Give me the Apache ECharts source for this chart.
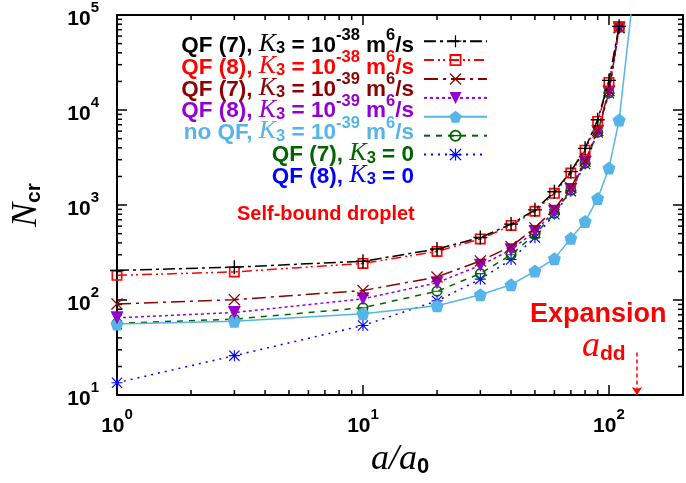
<!DOCTYPE html>
<html>
<head>
<meta charset="utf-8">
<script src="https://cdn.jsdelivr.net/npm/echarts@6/dist/echarts.min.js"></script>
<style>
  html, body { margin: 0; padding: 0; background: #fff; }
  #chart { width: 686px; height: 483px; }
</style>
</head>
<body>
<div id="chart"></div>
<script>
// a/a0 grid of the calculations
const aQF = [1, 3, 10, 20, 30, 40, 50, 60, 70, 80, 90, 100, 110];
const aNoQF = [1, 3, 10, 20, 30, 40, 50, 60, 70, 80, 90, 100, 110, 125];

// critical number N_cr for each model
const nQF7K38 = [205, 222, 256, 345, 455, 630, 890, 1380, 2250, 3950, 7900, 20500, 76000];
const nQF8K38 = [182, 198, 243, 325, 440, 610, 860, 1330, 2170, 3780, 7580, 19500, 75000];
const nQF7K39 = [91, 101, 126, 175, 258, 366, 575, 910, 1520, 2900, 6100, 16000, 74000];
const nQF8K39 = [65, 74, 103, 152, 232, 338, 528, 860, 1460, 2800, 5950, 15500, 73000];
const nNoQFK39 = [56, 60, 72, 87, 114, 145, 202, 273, 446, 673, 1175, 2450, 7840, 150000];
const nQF7K0 = [57, 63, 83, 124, 190, 300, 490, 820, 1430, 2760, 5850, 15200, 74000];
const nQF8K0 = [13.5, 26, 54, 98, 166, 267, 454, 800, 1400, 2700, 5800, 15000, 73000];

const xMinorTicks = [2, 3, 4, 5, 6, 7, 8, 9, 20, 30, 40, 50, 60, 70, 80, 90];
const yMinorTicks = [20, 30, 40, 50, 60, 70, 80, 90, 200, 300, 400, 500, 600, 700, 800, 900,
  2000, 3000, 4000, 5000, 6000, 7000, 8000, 9000, 20000, 30000, 40000, 50000, 60000, 70000, 80000, 90000];

const aDD = 130;

const seriesNames = ['QF7 K38', 'QF8 K38', 'QF7 K39', 'QF8 K39', 'noQF K39', 'QF7 K0', 'QF8 K0'];
const legendLabels = [
  '{n|QF (7), }{k|K}{sub|3}{n| = 10}{sup|-38}{n| m}{sup|6}{n|/s}',
  '{n|QF (8), }{k|K}{sub|3}{n| = 10}{sup|-38}{n| m}{sup|6}{n|/s}',
  '{n|QF (7), }{k|K}{sub|3}{n| = 10}{sup|-39}{n| m}{sup|6}{n|/s}',
  '{n|QF (8), }{k|K}{sub|3}{n| = 10}{sup|-39}{n| m}{sup|6}{n|/s}',
  '{n|no QF, }{k|K}{sub|3}{n| = 10}{sup|-39}{n| m}{sup|6}{n|/s}',
  '{n|QF (7), }{k|K}{sub|3}{n| = 0}',
  '{n|QF (8), }{k|K}{sub|3}{n| = 0}'
];
const colors = ['#000000', '#ff0000', '#8b0000', '#9400d3', '#56b4e9', '#006400', '#0000ff'];

// marker shapes
const symPlus = 'path://M9,0H11V9H20V11H11V20H9V11H0V9H9Z';
const symCross = 'path://M0,1.5L1.5,0L10,8.5L18.5,0L20,1.5L11.5,10L20,18.5L18.5,20L10,11.5L1.5,20L0,18.5L8.5,10Z';
const symBoxDot = 'path://M0,0H20V20H0Z M3,3V17H17V3Z M8,8H12V12H8Z';
const symTriDown = 'path://M0,0H20L10,17Z';
const symPentagon = 'path://M10,0L19.5,6.9L15.9,18.1L4.1,18.1L0.5,6.9Z';
const symCircleBar = 'path://M0,10A10,10 0 1,1 20,10A10,10 0 1,1 0,10Z M3,10A7,7 0 1,0 17,10A7,7 0 1,0 3,10Z M3,9H17V11H3Z';
const symStar = 'path://M9,0H11V9H20V11H11V20H9V11H0V9H9Z M0,1.5L1.5,0L10,8.5L18.5,0L20,1.5L11.5,10L20,18.5L18.5,20L10,11.5L1.5,20L0,18.5L8.5,10Z';

const SANS = 'Liberation Sans';
const SERIF = 'Liberation Serif';

let myChart = echarts.init(document.getElementById('chart'));

function pairs(xs, ys) {
  return xs.map((x, i) => [x, ys[i]]);
}

function lineSeries(idx, xs, ys, symbol, size, dash) {
  return {
    name: seriesNames[idx],
    type: 'line',
    data: pairs(xs, ys),
    symbol: symbol,
    symbolSize: size,
    showAllSymbol: true,
    itemStyle: { color: colors[idx] },
    lineStyle: { color: colors[idx], width: 1.5, type: dash },
    emphasis: { disabled: true },
    z: 10 - idx
  };
}

const tickStyle = { stroke: '#000', lineWidth: 1.5 };

const labelRich = {
  b: { fontFamily: SANS, fontWeight: 'bold', fontSize: 21, lineHeight: 30, verticalAlign: 'bottom', color: '#000' },
  s: { fontFamily: SANS, fontWeight: 'bold', fontSize: 15, lineHeight: 13, verticalAlign: 'top', color: '#000' }
};
function powLabel(v) {
  return '{b|10}{s|' + Math.round(Math.log10(v)) + '}';
}

const legRich = {
  n: { fontFamily: SANS, fontWeight: 'bold', fontSize: 22.5, lineHeight: 30, verticalAlign: 'bottom' },
  k: { fontFamily: SERIF, fontStyle: 'italic', fontSize: 26, lineHeight: 30, verticalAlign: 'bottom' },
  sub: { fontFamily: SANS, fontWeight: 'bold', fontSize: 16.5, lineHeight: 12, verticalAlign: 'bottom' },
  sup: { fontFamily: SANS, fontWeight: 'bold', fontSize: 16.5, lineHeight: 11, verticalAlign: 'top' }
};

const graphics = legendLabels.map((txt, i) => ({
  type: 'text',
  x: 414,
  y: 42 + i * 21.9,
  z: 100,
  style: {
    text: txt,
    rich: legRich,
    fill: colors[i],
    align: 'right',
    verticalAlign: 'middle'
  }
}));
graphics.push({
  type: 'text', x: 237, y: 214, z: 100,
  style: { text: 'Self-bound droplet', fill: '#ff0000', fontFamily: SANS, fontWeight: 'bold', fontSize: 20, verticalAlign: 'middle' }
});
graphics.push({
  type: 'text', x: 530, y: 315, z: 100,
  style: { text: 'Expansion', fill: '#ff0000', fontFamily: SANS, fontWeight: 'bold', fontSize: 27, verticalAlign: 'middle' }
});
graphics.push({
  type: 'text', x: 582, y: 350, z: 100,
  style: {
    text: '{a|a}{d|dd}',
    fill: '#ff0000',
    verticalAlign: 'middle',
    rich: {
      a: { fontFamily: SERIF, fontStyle: 'italic', fontSize: 36, lineHeight: 30, verticalAlign: 'bottom' },
      d: { fontFamily: SANS, fontWeight: 'bold', fontSize: 21, lineHeight: 14, verticalAlign: 'bottom' }
    }
  }
});

var option = {
  animation: false,
  grid: { left: 117, right: 3, top: 12, bottom: 83, containLabel: false },
  legend: {
    left: 423,
    top: 35.2,
    padding: 0,
    orient: 'vertical',
    itemWidth: 63,
    itemHeight: 15,
    itemGap: 6.9,
    selectedMode: false,
    formatter: function () { return ''; },
    textStyle: { fontSize: 10, lineHeight: 15 },
    data: seriesNames
  },
  xAxis: [
    {
      type: 'log', logBase: 10, min: 1, max: 200,
      name: '{a|a/a}{s|0}',
      nameLocation: 'middle',
      nameGap: 38,
      nameTextStyle: {
        rich: {
          a: { fontFamily: SERIF, fontStyle: 'italic', fontSize: 36, lineHeight: 36, verticalAlign: 'bottom', color: '#000' },
          s: { fontFamily: SANS, fontWeight: 'bold', fontSize: 22, lineHeight: 16, verticalAlign: 'bottom', color: '#000' }
        }
      },
      axisLine: { lineStyle: { color: '#000', width: 2 } },
      axisTick: { inside: true, length: 10, lineStyle: { color: '#000', width: 1.5 } },
      axisLabel: { margin: 12, showMaxLabel: false, formatter: powLabel, rich: labelRich },
      splitLine: { show: false }
    },
    {
      type: 'log', logBase: 10, min: 1, max: 200, position: 'top',
      axisLine: { lineStyle: { color: '#000', width: 2 } },
      axisTick: { inside: true, length: 10, lineStyle: { color: '#000', width: 1.5 } },
      axisLabel: { show: false },
      splitLine: { show: false }
    }
  ],
  yAxis: [
    {
      type: 'log', logBase: 10, min: 10, max: 100000, interval: 1,
      name: '{n|N}{s|cr}',
      nameLocation: 'middle',
      nameRotate: 90,
      nameGap: 72,
      nameTextStyle: {
        rich: {
          n: { fontFamily: SERIF, fontStyle: 'italic', fontSize: 36, lineHeight: 36, verticalAlign: 'bottom', color: '#000' },
          s: { fontFamily: SANS, fontWeight: 'bold', fontSize: 21, lineHeight: 16, verticalAlign: 'bottom', color: '#000' }
        }
      },
      axisLine: { lineStyle: { color: '#000', width: 2 } },
      axisTick: { inside: true, length: 10, lineStyle: { color: '#000', width: 1.5 } },
      axisLabel: { margin: 18, formatter: powLabel, rich: labelRich },
      splitLine: { show: false }
    },
    {
      type: 'log', logBase: 10, min: 10, max: 100000, interval: 1, position: 'right',
      axisLine: { lineStyle: { color: '#000', width: 2 } },
      axisTick: { inside: true, length: 10, lineStyle: { color: '#000', width: 1.5 } },
      axisLabel: { show: false },
      splitLine: { show: false }
    }
  ],
  graphic: graphics,
  series: [
    lineSeries(0, aQF, nQF7K38, symPlus, 14, [12, 4, 3, 4]),
    Object.assign(lineSeries(1, aQF, nQF8K38, symBoxDot, 11, [10, 4, 2, 3, 2, 4]), {
      markLine: {
        silent: true,
        symbol: ['none', 'arrow'],
        symbolSize: 8,
        label: { show: false },
        lineStyle: { color: '#ff0000', width: 1.5, type: [4, 3] },
        emphasis: { disabled: true },
        data: [[{ coord: [aDD, 28] }, { coord: [aDD, 10] }]]
      }
    }),
    lineSeries(2, aQF, nQF7K39, symCross, 12, [14, 5, 3, 5]),
    lineSeries(3, aQF, nQF8K39, symTriDown, 13, [3, 3]),
    lineSeries(4, aNoQF, nNoQFK39, symPentagon, 13, 'solid'),
    lineSeries(5, aQF, nQF7K0, symCircleBar, 11, [6, 6]),
    lineSeries(6, aQF, nQF8K0, symStar, 11, [2, 5]),
    {
      type: 'custom',
      silent: true,
      data: xMinorTicks.map(v => [v, 10]),
      renderItem: function (params, api) {
        const x = api.coord([api.value(0), 10])[0];
        const cs = params.coordSys;
        return {
          type: 'group',
          children: [
            { type: 'line', shape: { x1: x, y1: cs.y + cs.height, x2: x, y2: cs.y + cs.height - 5 }, style: tickStyle },
            { type: 'line', shape: { x1: x, y1: cs.y, x2: x, y2: cs.y + 5 }, style: tickStyle }
          ]
        };
      }
    },
    {
      type: 'custom',
      silent: true,
      data: yMinorTicks.map(v => [1, v]),
      renderItem: function (params, api) {
        const y = api.coord([1, api.value(1)])[1];
        const cs = params.coordSys;
        return {
          type: 'group',
          children: [
            { type: 'line', shape: { x1: cs.x, y1: y, x2: cs.x + 5, y2: y }, style: tickStyle },
            { type: 'line', shape: { x1: cs.x + cs.width, y1: y, x2: cs.x + cs.width - 5, y2: y }, style: tickStyle }
          ]
        };
      }
    }
  ]
};
myChart.setOption(option);
</script>
</body>
</html>
